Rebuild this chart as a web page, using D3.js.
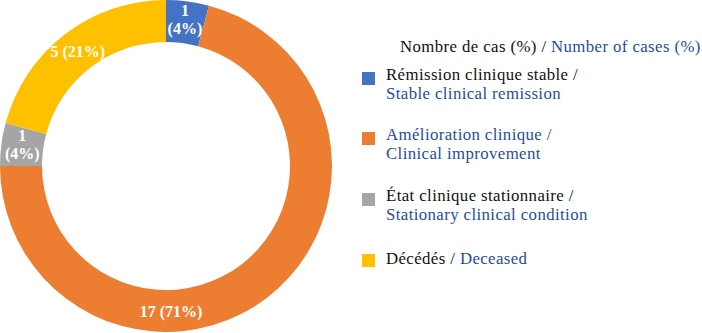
<!DOCTYPE html>
<html>
<head>
<meta charset="utf-8">
<script src="https://cdn.jsdelivr.net/npm/d3@7"></script>
<style>
  body { margin: 0; background: #fff; }
  svg text { font-family: "Liberation Serif", "Times New Roman", serif; }
</style>
</head>
<body>
<svg width="702" height="333"></svg>
<script>
const categoriesFr = ['Rémission clinique stable /', 'Amélioration clinique /', 'État clinique stationnaire /', 'Décédés /'];
const categoriesEn = ['Stable clinical remission', 'Clinical improvement', 'Stationary clinical condition', 'Deceased'];
const counts = [1, 17, 1, 5];
const percents = [4, 71, 4, 21];
const colors = ['#4472C4', '#ED7D31', '#A5A5A5', '#FFC000'];

const blueText = '#1F4E9A';
const svg = d3.select('svg');

const cx = 166, cy = 166;
const outerR = 166, innerR = 124;
const labelR = 145;

const data = counts.map((c, i) => ({ i, value: c, pct: percents[i] }));

const pie = d3.pie().sort(null).value(d => d.value);
const arc = d3.arc().innerRadius(innerR).outerRadius(outerR);

const g = svg.append('g').attr('transform', `translate(${cx},${cy})`);

const arcs = pie(data);

g.selectAll('path')
  .data(arcs)
  .join('path')
    .attr('d', arc)
    .attr('fill', d => colors[d.data.i]);

// labels; the big slice's label sits near the bottom like the original
const labelAngle = d => d.data.i === 1 ? Math.PI * 178 / 180 : (d.startAngle + d.endAngle) / 2;
arcs.forEach(d => {
  const a = labelAngle(d);
  const x = labelR * Math.sin(a), y = -labelR * Math.cos(a);
  const t = g.append('text')
    .attr('text-anchor', 'middle')
    .attr('fill', '#fff')
    .attr('font-weight', 'bold')
    .attr('font-size', 16);
  if (d.data.value < 2) {
    t.append('tspan').attr('x', x).attr('y', y - 6).text(`${d.data.value}`);
    t.append('tspan').attr('x', x).attr('y', y + 12).text(`(${d.data.pct}%)`);
  } else {
    t.attr('x', x).attr('y', y + 6).text(`${d.data.value} (${d.data.pct}%)`);
  }
});

// legend
const fs = 16.8;
const ls = '0.4px';
const legend = svg.append('g');
const title = legend.append('text')
  .attr('x', 400).attr('y', 52)
  .attr('font-size', fs)
  .attr('letter-spacing', ls);
title.append('tspan').attr('fill', '#111').text('Nombre de cas (%) / ');
title.append('tspan').attr('fill', blueText).text('Number of cases (%)');

const itemY = [72, 132, 193, 254];
categoriesFr.forEach((fr, i) => {
  const y = itemY[i];
  legend.append('rect')
    .attr('x', 362).attr('y', y)
    .attr('width', 13).attr('height', 13)
    .attr('fill', colors[i]);
  if (i === 3) {
    const t = legend.append('text').attr('x', 386).attr('y', y + 10)
      .attr('font-size', fs).attr('letter-spacing', ls);
    t.append('tspan').attr('fill', '#111').text(fr + ' ');
    t.append('tspan').attr('fill', blueText).text(categoriesEn[i]);
  } else {
    legend.append('text')
      .attr('x', 386).attr('y', y + 7.5).attr('font-size', fs).attr('letter-spacing', ls)
      .attr('fill', i === 1 ? blueText : '#111')
      .text(fr);
    legend.append('text')
      .attr('x', 386).attr('y', y + 27).attr('font-size', fs).attr('letter-spacing', ls)
      .attr('fill', blueText)
      .text(categoriesEn[i]);
  }
});
</script>
</body>
</html>
